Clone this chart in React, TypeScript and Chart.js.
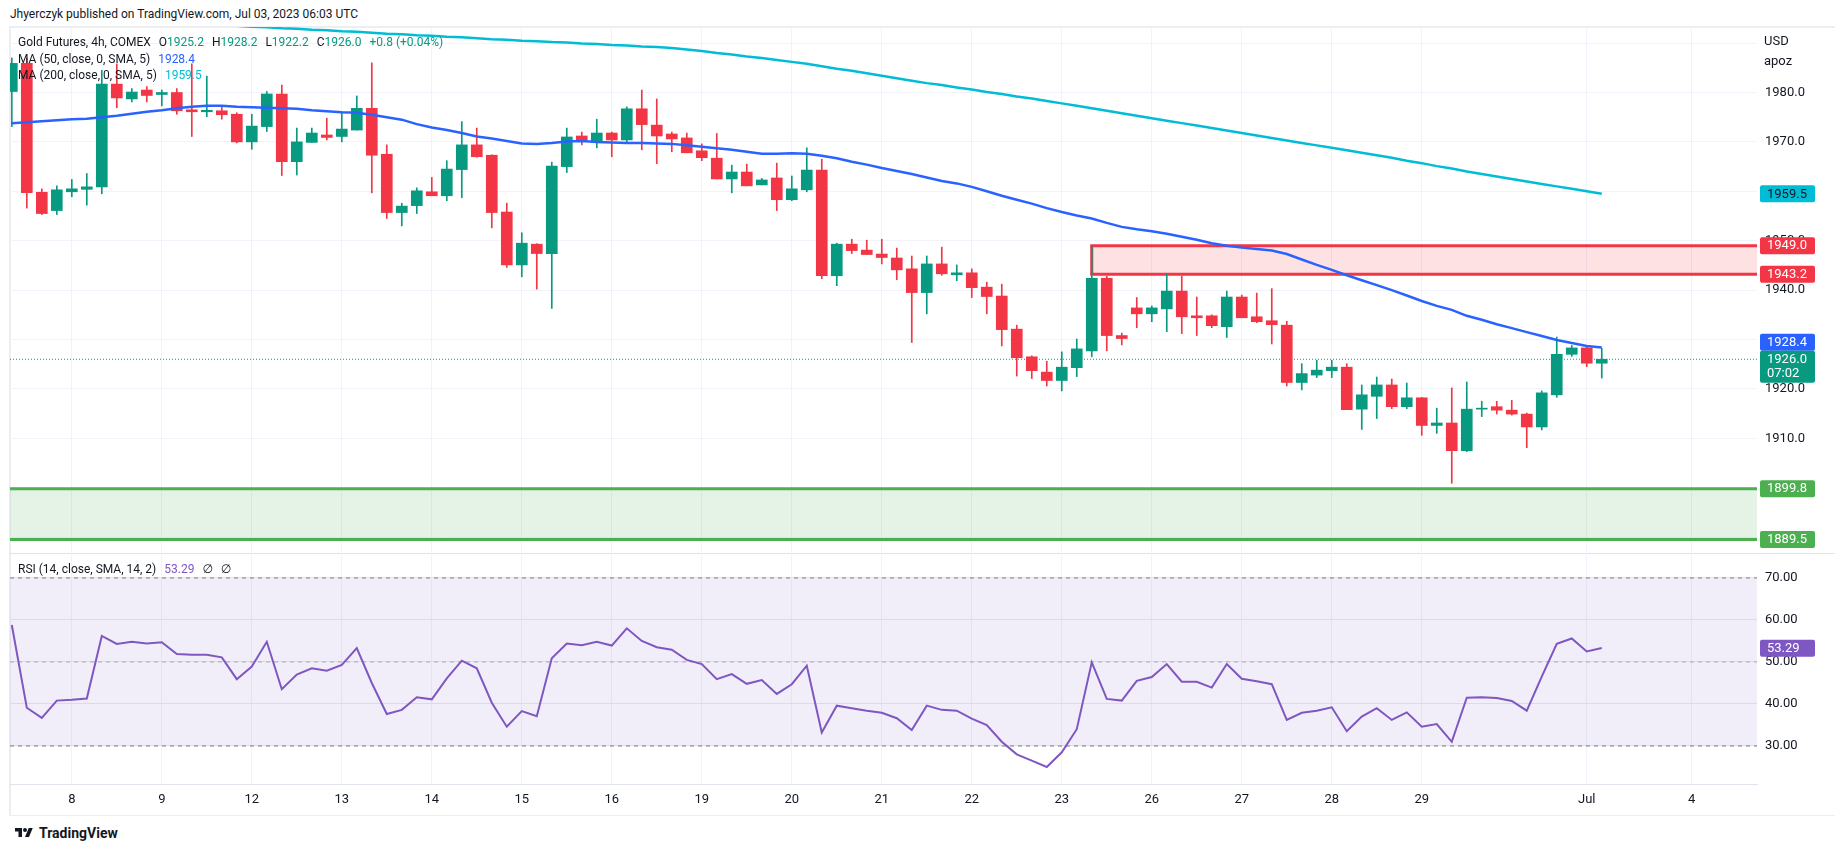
import React, { useEffect, useRef } from 'react';
import { Chart, registerables } from 'chart.js';

Chart.register(...registerables);

// ---------------- data ----------------
const opens = [
  1980.2, 1985.9, 1959.8, 1956.1, 1959.9, 1960.4, 1960.9, 1981.7, 1978.7, 1980.5,
  1979.6, 1980.0, 1976.5, 1976.1, 1976.3, 1975.6, 1970.0, 1973.1, 1979.7, 1966.0,
  1969.9, 1971.4, 1971.1, 1972.4, 1976.8, 1967.5, 1955.7, 1957.1, 1959.9, 1959.1,
  1964.4, 1969.4, 1967.3, 1955.8, 1945.1, 1949.3, 1947.4, 1965.0, 1971.2, 1970.2,
  1971.8, 1970.4, 1976.7, 1973.4, 1971.6, 1970.8, 1968.2, 1966.7, 1962.5, 1963.9,
  1961.3, 1962.7, 1958.3, 1960.3, 1964.3, 1942.9, 1949.3, 1948.1, 1947.3, 1946.5,
  1944.3, 1939.5, 1945.3, 1943.1, 1943.5, 1940.6, 1938.8, 1932.1, 1926.5, 1923.4,
  1921.7, 1924.3, 1927.7, 1942.4, 1930.8, 1936.4, 1935.2, 1936.2, 1939.8, 1934.8,
  1934.8, 1932.6, 1938.6, 1934.6, 1933.8, 1932.9, 1921.3, 1922.8, 1923.7, 1924.4,
  1915.9, 1918.5, 1920.8, 1916.4, 1918.2, 1912.6, 1913.1, 1907.5, 1915.9, 1916.4,
  1915.7, 1914.9, 1912.3, 1918.8, 1927.0, 1928.3, 1925.2,
];
const highs = [
  1987.0, 1987.0, 1960.5, 1961.1, 1962.4, 1963.6, 1984.5, 1985.8, 1980.8, 1981.2,
  1980.5, 1980.8, 1985.8, 1983.3, 1977.4, 1975.9, 1975.6, 1980.2, 1981.5, 1972.8,
  1972.8, 1974.8, 1975.9, 1979.3, 1986.0, 1969.4, 1957.6, 1960.7, 1962.8, 1966.2,
  1974.1, 1972.8, 1967.4, 1957.6, 1951.6, 1949.4, 1965.9, 1972.8, 1972.0, 1974.6,
  1972.0, 1977.1, 1980.5, 1978.7, 1972.0, 1971.8, 1969.6, 1971.7, 1965.3, 1965.5,
  1962.6, 1965.7, 1963.1, 1968.8, 1966.5, 1949.5, 1950.3, 1950.1, 1950.3, 1948.5,
  1946.9, 1946.9, 1948.7, 1945.1, 1944.3, 1941.6, 1941.2, 1932.9, 1926.7, 1925.6,
  1927.5, 1930.1, 1949.0, 1942.8, 1931.3, 1938.5, 1936.8, 1943.3, 1942.8, 1938.6,
  1935.0, 1939.8, 1939.0, 1939.4, 1940.3, 1933.7, 1925.1, 1925.8, 1925.8, 1925.1,
  1920.8, 1922.4, 1922.0, 1921.2, 1918.3, 1916.1, 1920.2, 1921.4, 1917.5, 1917.5,
  1917.7, 1915.1, 1919.6, 1930.5, 1928.8, 1928.6, 1928.2,
];
const lows = [
  1973.1, 1956.6, 1955.3, 1955.3, 1958.9, 1957.2, 1959.5, 1976.9, 1978.1, 1978.1,
  1977.3, 1975.6, 1971.1, 1975.1, 1974.6, 1969.8, 1968.5, 1972.1, 1963.2, 1963.3,
  1969.9, 1970.4, 1970.0, 1972.4, 1959.7, 1954.5, 1953.0, 1955.5, 1959.1, 1958.1,
  1958.7, 1966.9, 1952.6, 1944.6, 1942.7, 1940.2, 1936.3, 1963.8, 1969.4, 1968.8,
  1967.0, 1970.0, 1968.4, 1965.6, 1968.0, 1967.8, 1966.2, 1962.5, 1959.7, 1961.1,
  1961.3, 1956.1, 1958.1, 1959.9, 1942.3, 1940.9, 1947.4, 1947.2, 1945.3, 1942.1,
  1929.4, 1935.2, 1943.0, 1941.9, 1938.5, 1935.2, 1928.7, 1922.6, 1922.1, 1920.6,
  1919.6, 1922.5, 1926.5, 1927.7, 1928.9, 1932.4, 1933.6, 1931.6, 1931.2, 1930.8,
  1932.4, 1930.4, 1934.4, 1933.4, 1929.1, 1920.6, 1919.8, 1922.3, 1922.3, 1915.8,
  1911.8, 1914.0, 1916.0, 1916.0, 1910.6, 1911.0, 1900.9, 1907.3, 1914.4, 1914.9,
  1914.7, 1908.1, 1911.7, 1918.3, 1926.6, 1924.5, 1922.2,
];
const closes = [
  1985.9, 1959.7, 1955.5, 1960.3, 1960.5, 1960.9, 1981.7, 1978.9, 1980.1, 1979.4,
  1980.0, 1976.3, 1976.1, 1976.4, 1975.5, 1970.0, 1973.2, 1979.7, 1966.0, 1970.0,
  1971.8, 1970.9, 1972.6, 1976.8, 1967.3, 1955.7, 1957.0, 1960.1, 1959.1, 1964.5,
  1969.4, 1967.0, 1955.7, 1945.1, 1949.5, 1947.4, 1965.1, 1971.0, 1970.4, 1971.8,
  1970.4, 1976.7, 1973.5, 1971.2, 1970.6, 1967.8, 1966.8, 1962.5, 1963.9, 1961.1,
  1962.3, 1958.3, 1960.5, 1964.3, 1942.9, 1949.3, 1948.0, 1947.2, 1946.6, 1944.1,
  1939.5, 1945.3, 1943.3, 1943.5, 1940.5, 1938.7, 1932.0, 1926.3, 1923.7, 1921.7,
  1924.4, 1928.1, 1942.4, 1930.8, 1930.2, 1935.2, 1936.4, 1939.8, 1934.6, 1934.4,
  1932.8, 1938.6, 1934.4, 1933.6, 1933.0, 1921.3, 1923.1, 1923.8, 1924.4, 1915.8,
  1918.8, 1920.8, 1916.4, 1918.2, 1912.6, 1913.1, 1907.5, 1915.9, 1916.1, 1915.7,
  1914.9, 1912.3, 1919.2, 1927.0, 1928.3, 1925.2, 1926.0,
];
const ma50 = [
  1973.8, 1974.0, 1974.2, 1974.4, 1974.6, 1974.7, 1975.0, 1975.3, 1975.7, 1976.1,
  1976.4, 1976.8, 1977.1, 1977.3, 1977.3, 1977.1, 1977.0, 1976.9, 1976.8, 1976.7,
  1976.4, 1976.2, 1976.0, 1975.9, 1975.5, 1975.0, 1974.5, 1973.6, 1972.9, 1972.4,
  1971.8, 1971.1, 1970.7, 1970.2, 1969.7, 1969.6, 1969.8, 1970.1, 1970.2, 1970.0,
  1969.9, 1969.8, 1969.8, 1969.7, 1969.6, 1969.3, 1969.0, 1968.7, 1968.4, 1968.0,
  1967.6, 1967.6, 1967.7, 1967.6, 1967.2, 1966.7, 1966.0, 1965.4, 1964.7, 1964.1,
  1963.5, 1962.8, 1962.1, 1961.6, 1960.9, 1960.0, 1959.1, 1958.3, 1957.5, 1956.6,
  1955.8, 1955.1, 1954.5, 1953.6, 1952.8, 1952.3, 1951.9, 1951.4, 1950.8, 1950.2,
  1949.5, 1949.0, 1948.6, 1948.3, 1948.0, 1947.3, 1946.2, 1945.1, 1944.1, 1943.0,
  1942.0, 1941.0, 1940.0, 1938.9, 1937.8, 1936.8, 1936.0, 1934.8, 1934.0, 1933.1,
  1932.3, 1931.5, 1930.7, 1929.9, 1929.3, 1928.7, 1928.4,
];
const ma200 = [
  1995.7, 1995.6, 1995.4, 1995.3, 1995.1, 1995.0, 1994.8, 1994.7, 1994.5, 1994.4,
  1994.2, 1994.1, 1993.9, 1993.8, 1993.6, 1993.5, 1993.3, 1993.2, 1993.0, 1992.9,
  1992.7, 1992.6, 1992.4, 1992.3, 1992.1, 1991.9, 1991.8, 1991.6, 1991.5, 1991.3,
  1991.2, 1991.0, 1990.8, 1990.7, 1990.5, 1990.4, 1990.2, 1990.1, 1989.9, 1989.8,
  1989.6, 1989.5, 1989.3, 1989.2, 1989.0, 1988.7, 1988.4, 1988.0, 1987.7, 1987.3,
  1987.0, 1986.6, 1986.2, 1985.8, 1985.3, 1984.8, 1984.4, 1983.9, 1983.4, 1982.9,
  1982.4, 1981.9, 1981.5, 1981.0, 1980.6, 1980.1, 1979.7, 1979.2, 1978.8, 1978.3,
  1977.8, 1977.3, 1976.8, 1976.3, 1975.8, 1975.3, 1974.8, 1974.3, 1973.8, 1973.3,
  1972.8, 1972.3, 1971.8, 1971.3, 1970.8, 1970.3, 1969.8, 1969.3, 1968.8, 1968.3,
  1967.8, 1967.3, 1966.8, 1966.2, 1965.7, 1965.1, 1964.6, 1964.0, 1963.5, 1963.0,
  1962.5, 1962.0, 1961.5, 1961.0, 1960.5, 1960.0, 1959.5,
];
const rsi = [
  58.8, 39.1, 36.7, 40.8, 41.0, 41.3, 56.2, 54.3, 54.8, 54.4,
  54.7, 51.9, 51.7, 51.7, 51.1, 45.9, 48.9, 54.8, 43.5, 47.0,
  48.5, 47.9, 49.3, 53.3, 45.0, 37.6, 38.6, 41.6, 41.1, 46.1,
  50.3, 48.5, 40.3, 34.6, 38.3, 37.1, 50.9, 54.4, 54.0, 54.8,
  53.9, 58.0, 55.0, 53.5, 52.9, 50.5, 49.5, 45.9, 47.1, 44.8,
  45.7, 42.4, 44.7, 49.1, 33.2, 39.6, 39.0, 38.4, 37.9, 36.6,
  33.8, 39.6, 38.6, 38.4, 36.5, 35.0, 31.0, 28.0, 26.5, 25.0,
  28.5, 34.0, 49.9, 41.2, 40.8, 45.5, 46.4, 49.5, 45.3, 45.3,
  43.9, 49.5, 46.0, 45.4, 44.7, 36.2, 37.9, 38.4, 39.2, 33.5,
  37.0, 39.0, 36.2, 38.0, 34.6, 35.2, 31.0, 41.5, 41.6, 41.4,
  40.7, 38.4, 46.5, 54.3, 55.6, 52.5, 53.3,
];
const dayTickIndex = [4, 10, 16, 22, 28, 34, 40, 46, 52, 58, 64, 70, 76, 82, 88, 94, 105, 112];
const dayTickLabels = ['8', '9', '12', '13', '14', '15', '16', '19', '20', '21', '22', '23', '26', '27', '28', '29', 'Jul', '4'];
const priceTicks = [1890, 1900, 1910, 1920, 1930, 1940, 1950, 1960, 1970, 1980, 1990];
const rsiTicks = [30, 40, 50, 60, 70];
const rsiLevels = [70, 50, 30];
const resistanceZone = [1943.2, 1949.0];
const resistanceStartBar = 72;
const supportZone = [1889.5, 1899.8];
const lastPrice = 1926.0;
const lastMa50 = 1928.4;
const lastMa200 = 1959.5;
const lastRsi = 53.29;
const countdown = '07:02';

// ---------------- styling / layout ----------------
const FONT = 'Roboto, "Noto Sans", "DejaVu Sans", sans-serif';
const TXT = '#131722';
const GREEN = '#089981';
const RED = '#f23645';
const BLUE = '#2962ff';
const CYAN = '#00bcd4';
const ZONE_GREEN = '#4caf50';
const PURPLE = '#7e57c2';
const GRID = '#f0f3fa';

const W = 1835;
const PRICE_TOP = 27;
const PRICE_H = 527;
const RSI_TOP = 554;
const RSI_H = 261;
const AXIS_W = 78;
const PLOT_LEFT = 10;
const X_MIN = -0.12;
const X_MAX = 116.35;

Chart.defaults.font.family = FONT;
Chart.defaults.font.size = 13;
Chart.defaults.color = TXT;

const badgePlugin = {
  id: 'badges',
  afterDraw(chart: any, _args: any, opts: any) {
    const items = (opts && opts.items) || [];
    if (!items.length) return;
    const { ctx, chartArea } = chart;
    const ys = chart.scales.y;
    const left = chartArea.right + 3;
    const w = 55;
    const h = 17;
    const rects = items.map((b: any) => ({
      b,
      top: ys.getPixelForValue(b.value) - h / 2,
      h: b.sub ? 32 : h,
    }));
    const fixed = rects.filter((r: any) => r.b.fixed);
    rects.forEach((r: any) => {
      if (r.b.fixed) return;
      fixed.forEach((f: any) => {
        if (r.top < f.top + f.h && r.top + r.h > f.top) {
          r.top = r.top < f.top ? f.top - r.h : f.top + f.h;
        }
      });
    });
    ctx.save();
    ctx.font = `13px ${FONT}`;
    ctx.textBaseline = 'middle';
    ctx.textAlign = 'left';
    rects.forEach((r: any) => {
      ctx.fillStyle = r.b.bg;
      ctx.beginPath();
      if (ctx.roundRect) ctx.roundRect(left, r.top, w, r.h, 2);
      else ctx.rect(left, r.top, w, r.h);
      ctx.fill();
      ctx.fillStyle = r.b.fg;
      ctx.fillText(r.b.text, left + 7, r.top + h / 2 + 0.5);
      if (r.b.sub) ctx.fillText(r.b.sub, left + 7, r.top + h / 2 + 14.5);
    });
    ctx.restore();
  },
};

const hLine = (y: number, x0: number, x1: number) => [
  { x: x0, y },
  { x: x1, y },
];

const noPadY = (s: any) => {
  s.width = AXIS_W;
  s.paddingTop = 0;
  s.paddingBottom = 0;
};

export default function App() {
  const priceRef = useRef<HTMLCanvasElement | null>(null);
  const rsiRef = useRef<HTMLCanvasElement | null>(null);

  useEffect(() => {
    document.body.style.margin = '0';
    const colors = opens.map((o, i) => (closes[i] >= o ? GREEN : RED));
    const bodies = opens.map((o, i) => ({ x: i, y: [o, closes[i]] }));
    const wicks = lows.map((l, i) => ({ x: i, y: [l, highs[i]] }));
    const lineBase = { type: 'line', pointRadius: 0, tension: 0, fill: false };

    const price = new Chart(priceRef.current as HTMLCanvasElement, {
      type: 'bar',
      data: {
        datasets: [
          { ...lineBase, data: hLine(supportZone[1], X_MIN, X_MAX), borderColor: ZONE_GREEN, borderWidth: 3, order: 20 },
          { ...lineBase, data: hLine(supportZone[0], X_MIN, X_MAX), borderColor: ZONE_GREEN, borderWidth: 3, fill: '-1', backgroundColor: 'rgba(76,175,80,0.15)', order: 20 },
          { ...lineBase, data: hLine(resistanceZone[1], resistanceStartBar, X_MAX), borderColor: RED, borderWidth: 3, order: 19, borderCapStyle: 'square' },
          { ...lineBase, data: hLine(resistanceZone[0], resistanceStartBar, X_MAX), borderColor: RED, borderWidth: 3, fill: '-1', backgroundColor: 'rgba(242,54,69,0.15)', order: 19, borderCapStyle: 'square' },
          { ...lineBase, data: [{ x: resistanceStartBar, y: resistanceZone[0] }, { x: resistanceStartBar, y: resistanceZone[1] }], borderColor: RED, borderWidth: 3, order: 19 },
          { ...lineBase, data: hLine(lastPrice, X_MIN, X_MAX), borderColor: GREEN, borderWidth: 1, borderDash: [1, 2], order: 15 },
          { type: 'bar', data: wicks, backgroundColor: colors, barThickness: 1, grouped: false, order: 10 },
          { type: 'bar', data: bodies, backgroundColor: colors, barThickness: 11, grouped: false, minBarLength: 1, order: 9 },
          { ...lineBase, data: ma200.map((v, i) => ({ x: i, y: v })), borderColor: CYAN, borderWidth: 2.5, order: 2 },
          { ...lineBase, data: ma50.map((v, i) => ({ x: i, y: v })), borderColor: BLUE, borderWidth: 2.5, order: 1 },
        ] as any,
      },
      options: {
        animation: false,
        responsive: false,
        events: [],
        layout: { padding: { left: PLOT_LEFT, right: 0, top: 0, bottom: 0 } },
        plugins: {
          legend: { display: false },
          tooltip: { enabled: false },
          badges: {
            items: [
              { value: lastMa200, bg: CYAN, fg: TXT, text: lastMa200.toFixed(1) },
              { value: resistanceZone[1], bg: RED, fg: '#fff', text: resistanceZone[1].toFixed(1) },
              { value: resistanceZone[0], bg: RED, fg: '#fff', text: resistanceZone[0].toFixed(1) },
              { value: lastMa50, bg: BLUE, fg: '#fff', text: lastMa50.toFixed(1) },
              { value: lastPrice, bg: GREEN, fg: '#fff', text: lastPrice.toFixed(1), sub: countdown, fixed: true },
              { value: supportZone[1], bg: ZONE_GREEN, fg: '#fff', text: supportZone[1].toFixed(1) },
              { value: supportZone[0], bg: ZONE_GREEN, fg: '#fff', text: supportZone[0].toFixed(1) },
            ],
          },
        } as any,
        scales: {
          x: {
            type: 'linear',
            min: X_MIN,
            max: X_MAX,
            offset: false,
            afterBuildTicks: (s: any) => { s.ticks = dayTickIndex.map((v) => ({ value: v })); },
            afterFit: (s: any) => { s.height = 0; s.paddingLeft = 0; s.paddingRight = 0; },
            ticks: { display: false },
            grid: { color: GRID, drawTicks: false, offset: false },
            border: { display: false },
          },
          y: {
            type: 'linear',
            position: 'right',
            min: 1886.58,
            max: 1993.26,
            afterBuildTicks: (s: any) => { s.ticks = priceTicks.map((v) => ({ value: v })); },
            afterFit: noPadY,
            ticks: {
              padding: 8,
              color: TXT,
              font: { size: 13 },
              callback: (v: any) => (v === 1990 ? '' : Number(v).toFixed(1)),
            },
            grid: { color: GRID, drawTicks: false },
            border: { display: false },
          },
        },
      } as any,
      plugins: [badgePlugin as any],
    });

    const rsiChart = new Chart(rsiRef.current as HTMLCanvasElement, {
      type: 'line',
      data: {
        datasets: [
          { ...lineBase, data: hLine(rsiLevels[0], X_MIN, X_MAX), borderColor: '#787b86', borderWidth: 1, borderDash: [4, 4], order: 5 },
          { ...lineBase, data: hLine(rsiLevels[1], X_MIN, X_MAX), borderColor: 'rgba(120,123,134,0.55)', borderWidth: 1, borderDash: [4, 4], order: 5 },
          { ...lineBase, data: hLine(rsiLevels[2], X_MIN, X_MAX), borderColor: '#787b86', borderWidth: 1, borderDash: [4, 4], fill: 0, backgroundColor: 'rgba(126,87,194,0.1)', order: 5 },
          { ...lineBase, data: rsi.map((v, i) => ({ x: i, y: v })), borderColor: PURPLE, borderWidth: 2, order: 1 },
        ] as any,
      },
      options: {
        animation: false,
        responsive: false,
        events: [],
        layout: { padding: { left: PLOT_LEFT, right: 0, top: 0, bottom: 0 } },
        plugins: {
          legend: { display: false },
          tooltip: { enabled: false },
          badges: { items: [{ value: lastRsi, bg: PURPLE, fg: '#fff', text: lastRsi.toFixed(2) }] },
        } as any,
        scales: {
          x: {
            type: 'linear',
            min: X_MIN,
            max: X_MAX,
            offset: false,
            afterBuildTicks: (s: any) => { s.ticks = dayTickIndex.map((v) => ({ value: v })); },
            afterFit: (s: any) => { s.height = 31; s.paddingLeft = 0; s.paddingRight = 0; },
            ticks: {
              autoSkip: false,
              maxRotation: 0,
              padding: 8,
              color: TXT,
              font: { size: 13 },
              callback: (v: any) => {
                const k = dayTickIndex.indexOf(Number(v));
                return k >= 0 ? dayTickLabels[k] : '';
              },
            },
            grid: { color: GRID, drawTicks: false, offset: false },
            border: { display: true, color: '#e0e3eb' },
          },
          y: {
            type: 'linear',
            position: 'right',
            min: 20.95,
            max: 75.7,
            afterBuildTicks: (s: any) => { s.ticks = rsiTicks.map((v) => ({ value: v })); },
            afterFit: noPadY,
            ticks: { padding: 8, color: TXT, font: { size: 13 }, callback: (v: any) => Number(v).toFixed(2) },
            grid: { color: '#e9e6f2', drawTicks: false },
            border: { display: false },
          },
        },
      } as any,
      plugins: [badgePlugin as any],
    });

    return () => {
      price.destroy();
      rsiChart.destroy();
    };
  }, []);

  const legendLine = (top: number, children: React.ReactNode) => (
    <div style={{ position: 'absolute', left: 18, top, fontSize: 12, lineHeight: '17px', whiteSpace: 'nowrap', color: TXT }}>
      {children}
    </div>
  );
  const val = (label: string, v: string) => (
    <span style={{ marginLeft: 8 }}>
      {label}
      <span style={{ color: GREEN }}>{v}</span>
    </span>
  );

  return (
    <div style={{ position: 'relative', width: W, height: 850, background: '#fff', fontFamily: FONT, color: TXT, overflow: 'hidden' }}>
      <div style={{ position: 'absolute', left: 10, top: 6, fontSize: 12, lineHeight: '17px', whiteSpace: 'nowrap' }}>
        Jhyerczyk published on TradingView.com, Jul 03, 2023 06:03 UTC
      </div>
      <div style={{ position: 'absolute', left: 9, top: 26, width: W - 9, height: 2, background: '#eceef2' }} />
      <div style={{ position: 'absolute', left: 9, top: 26, width: 2, height: 790, background: '#eceef2' }} />
      <div style={{ position: 'absolute', left: 9, top: RSI_TOP - 1, width: W - 9, height: 1, background: '#e0e3eb' }} />
      <div style={{ position: 'absolute', left: 9, top: 815, width: W - 9, height: 1, background: '#eceef2' }} />
      <canvas ref={priceRef} width={W} height={PRICE_H} style={{ position: 'absolute', left: 0, top: PRICE_TOP, width: W, height: PRICE_H }} />
      <canvas ref={rsiRef} width={W} height={RSI_H} style={{ position: 'absolute', left: 0, top: RSI_TOP, width: W, height: RSI_H }} />

      {legendLine(34, (
        <>
          <span>Gold Futures, 4h, COMEX</span>
          {val('O', '1925.2')}
          {val('H', '1928.2')}
          {val('L', '1922.2')}
          {val('C', '1926.0')}
          <span style={{ marginLeft: 8, color: GREEN }}>+0.8 (+0.04%)</span>
        </>
      ))}
      {legendLine(51, (
        <>
          <span>MA (50, close, 0, SMA, 5)</span>
          <span style={{ marginLeft: 8, color: BLUE }}>{lastMa50.toFixed(1)}</span>
        </>
      ))}
      {legendLine(67, (
        <>
          <span>MA (200, close, 0, SMA, 5)</span>
          <span style={{ marginLeft: 8, color: CYAN }}>{lastMa200.toFixed(1)}</span>
        </>
      ))}
      {legendLine(561, (
        <>
          <span>RSI (14, close, SMA, 14, 2)</span>
          <span style={{ marginLeft: 8, color: PURPLE }}>{lastRsi.toFixed(2)}</span>
          <span style={{ marginLeft: 8 }}>∅</span>
          <span style={{ marginLeft: 8 }}>∅</span>
        </>
      ))}

      <div style={{ position: 'absolute', left: 1764, top: 31, fontSize: 13, lineHeight: '20px', background: '#fff', color: TXT }}>
        <div>USD</div>
        <div>apoz</div>
      </div>

      <div style={{ position: 'absolute', left: 14, top: 825, display: 'flex', alignItems: 'center', gap: 5 }}>
        <svg width="20" height="14" viewBox="0 0 36 28">
          <path d="M14 22H7V11H0V4h14v18Z" fill={TXT} />
          <circle cx="20" cy="8" r="4" fill={TXT} />
          <path d="M28 22h-8l7.5-18h8L28 22Z" fill={TXT} />
        </svg>
        <span style={{ fontSize: 14, fontWeight: 700, color: TXT }}>TradingView</span>
      </div>
    </div>
  );
}
